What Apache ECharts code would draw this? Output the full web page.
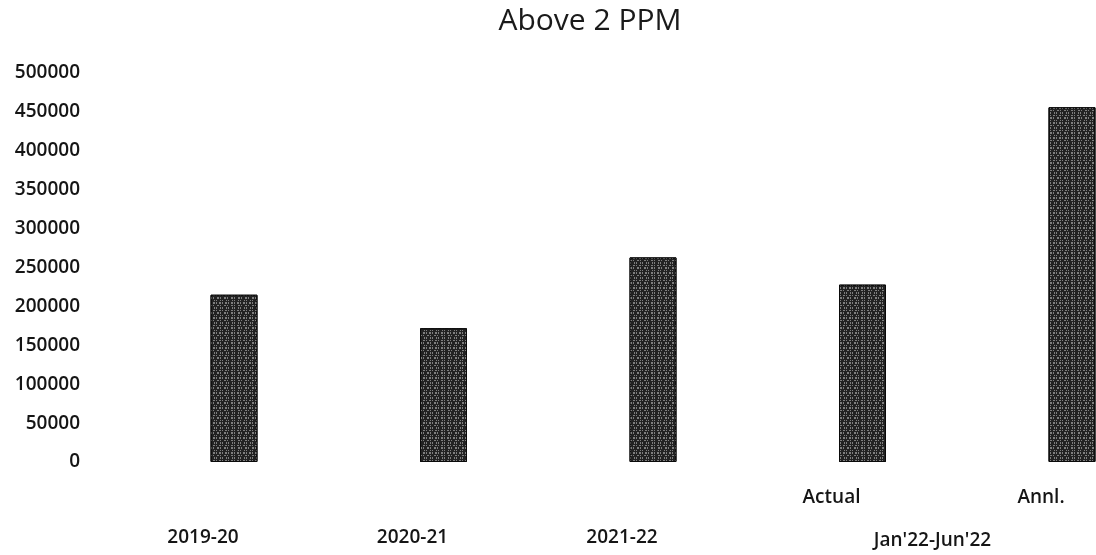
<!DOCTYPE html>
<html>
<head>
<meta charset="utf-8">
<script src="https://cdn.jsdelivr.net/npm/echarts@6/dist/echarts.min.js"></script>
<style>
  html, body { margin: 0; padding: 0; background: #ffffff; }
  #chart { width: 1096px; height: 555px; }
</style>
</head>
<body>
<div id="chart"></div>
<script>
const titleText = 'Above 2 PPM';
const categories = ['2019-20', '2020-21', '2021-22', 'Actual', 'Annl.'];
const periodLabel = "Jan'22-Jun'22";
const values = [215000, 172000, 263000, 228000, 456000];
const yMin = 0;
const yMax = 500000;
const yInterval = 50000;

const FONT = '"Open Sans", "Liberation Sans", sans-serif';
const TXT = '#151515';
const chart = echarts.init(document.getElementById('chart'), null, { renderer: 'canvas' });

chart.setOption({
  backgroundColor: '#ffffff',
  animation: false,
  title: {
    text: titleText,
    left: 585,
    top: 1,
    textAlign: 'center',
    textStyle: { fontFamily: FONT, fontSize: 30, fontWeight: 'normal', color: '#1a1a1a' }
  },
  grid: { left: 234, top: 73, width: 838, height: 389, outerBoundsMode: 'none', containLabel: false },
  xAxis: [
    {
      type: 'category',
      data: categories,
      boundaryGap: false,
      position: 'bottom',
      axisLine: { show: false },
      axisTick: { show: false },
      splitLine: { show: false },
      axisLabel: {
        interval: 0,
        margin: 26,
        formatter: function (v, i) { return i >= 3 ? '{a|' + v + '}' : ''; },
        rich: {
          a: { fontFamily: FONT, fontSize: 19, fontWeight: 600, lineHeight: 20, color: TXT, padding: [0, 62, 0, 0] }
        }
      }
    },
    {
      type: 'category',
      data: categories,
      boundaryGap: false,
      position: 'bottom',
      axisLine: { show: false },
      axisTick: { show: false },
      splitLine: { show: false },
      axisLabel: {
        interval: 0,
        margin: 66,
        formatter: function (v, i) {
          if (i < 3) return '{a|' + v + '}';
          if (i === 3) return '{b|' + periodLabel + '}';
          return '';
        },
        rich: {
          a: { fontFamily: FONT, fontSize: 19, fontWeight: 600, lineHeight: 20, color: TXT, padding: [0, 62, 0, 0] },
          b: { fontFamily: FONT, fontSize: 19, fontWeight: 600, lineHeight: 20, color: TXT, padding: [6, 0, 0, 140] }
        }
      }
    }
  ],
  yAxis: {
    type: 'value',
    min: yMin,
    max: yMax,
    interval: yInterval,
    axisLine: { show: false },
    axisTick: { show: false },
    splitLine: { show: false },
    axisLabel: {
      margin: 154,
      fontFamily: FONT,
      fontSize: 19,
      fontWeight: 600,
      color: TXT,
      formatter: function (v) { return String(v); }
    }
  },
  series: [
    {
      type: 'bar',
      xAxisIndex: 0,
      data: values,
      barWidth: 47,
      clip: false,
      itemStyle: {
        color: '#222222',
        borderColor: '#0a0a0a',
        borderWidth: 1,
        decal: {
          symbol: 'rect',
          symbolSize: 1,
          color: 'rgba(255,255,255,0.42)',
          dashArrayX: [[1, 2, 2, 1], [2, 1, 1, 3], [1, 3, 1, 1]],
          dashArrayY: [1, 1, 2, 1],
          rotation: 0
        }
      }
    }
  ]
});
</script>
</body>
</html>
